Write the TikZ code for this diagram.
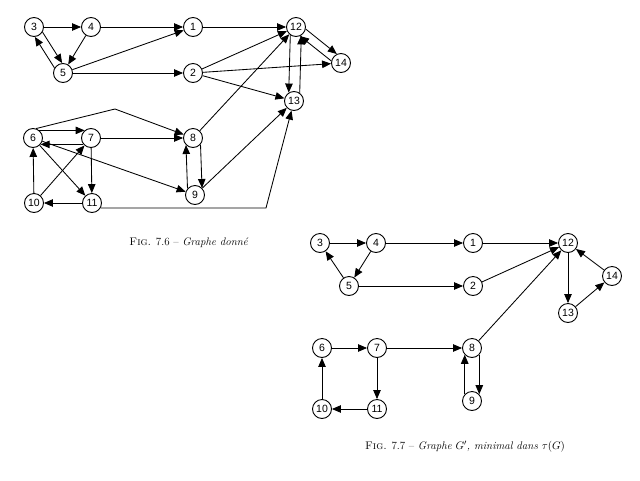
\documentclass[tikz,border=0pt]{standalone}
\usepackage{fontspec}
\newfontfamily\nodefont{Liberation Sans}
\usetikzlibrary{arrows.meta}
\begin{document}
\begin{tikzpicture}[x=1pt,y=-1pt,
  v/.style={circle,draw,line width=0.9pt,minimum size=19pt,inner sep=0pt,font=\nodefont\fontsize{10.5}{10.5}\selectfont},
  e/.style={line width=0.85pt,-{Triangle[length=9pt,width=7.5pt]}},
  capt/.style={font=\fontsize{11}{13}\selectfont}]
\useasboundingbox (0,0) rectangle (640,480);
% ---------------- Graph G ----------------
\node[v] (g3) at (34,27) {3};
\node[v] (g4) at (91,27) {4};
\node[v] (g1) at (193,27) {1};
\node[v] (g12) at (296,27) {12};
\node[v] (g14) at (341,63) {14};
\node[v] (g5) at (63,73) {5};
\node[v] (g2) at (193,73) {2};
\node[v] (g13) at (294,101) {13};
\node[v] (g6) at (33,138) {6};
\node[v] (g7) at (91,138) {7};
\node[v] (g8) at (193,138) {8};
\node[v] (g9) at (195,195) {9};
\node[v] (g10) at (34,203) {10};
\node[v] (g11) at (92,203) {11};
\coordinate (c1) at (115,109);
\coordinate (c2) at (266,208);

\draw[e] (g3) -- (g4);
\draw[e] (g4) -- (g1);
\draw[e] (g1) -- (g12);
\draw[e] (g4) -- (g5);
\draw[e] (g3.-31) -- (g5.95);
\draw[e] (g5.149) -- (g3.-85);
\draw[e] (g5) -- (g1);
\draw[e] (g5) -- (g2);
\draw[e] (g2) -- (g12);
\draw[e] (g2) -- (g14);
\draw[e] (g2) -- (g13);
\draw[e] (g12.-12) -- (g14.115);
\draw[e] (g14.168) -- (g12.-66);
\draw[e] (g12.-125) -- (g13.122);
\draw[e] (g13.55) -- (g12.-58);
\draw[e] (g8) -- (g12);
\draw[e] (g9) -- (g13);
\draw[e] (g11.-30) -- (c2) -- (g13);
\draw[e] (g6.72) -- (c1) -- (g8);
\draw[e] (g6.50) -- (g7.130);
\draw[e] (g7.-140) -- (g6.-40);
\draw[e] (g7) -- (g8);
\draw[e] (g6) -- (g11);
\draw[e] (g6) -- (g9);
\draw[e] (g10) -- (g6);
\draw[e] (g10) -- (g7);
\draw[e] (g7) -- (g11);
\draw[e] (g11) -- (g10);
\draw[e] (g8.-41) -- (g9.45);
\draw[e] (g9.139) -- (g8.-135);

\node[capt] (cap1) at (189,243) {\textsc{Fig.} 7.6 -- \textit{Graphe donné}};

% ---------------- Graph G' ----------------
\node[v] (h3) at (320,243) {3};
\node[v] (h4) at (376,243) {4};
\node[v] (h1) at (473,243) {1};
\node[v] (h12) at (568,243) {12};
\node[v] (h14) at (612,276) {14};
\node[v] (h5) at (349,286) {5};
\node[v] (h2) at (473,286) {2};
\node[v] (h13) at (568,313) {13};
\node[v] (h6) at (322,348) {6};
\node[v] (h7) at (377,348) {7};
\node[v] (h8) at (472,348) {8};
\node[v] (h9) at (472,401) {9};
\node[v] (h10) at (322,409) {10};
\node[v] (h11) at (377,409) {11};

\draw[e] (h3) -- (h4);
\draw[e] (h4) -- (h1);
\draw[e] (h1) -- (h12);
\draw[e] (h4) -- (h5);
\draw[e] (h5) -- (h3);
\draw[e] (h5) -- (h2);
\draw[e] (h2) -- (h12);
\draw[e] (h12) -- (h13);
\draw[e] (h13) -- (h14);
\draw[e] (h14) -- (h12);
\draw[e] (h8) -- (h12);
\draw[e] (h6) -- (h7);
\draw[e] (h7) -- (h8);
\draw[e] (h7) -- (h11);
\draw[e] (h11) -- (h10);
\draw[e] (h10) -- (h6);
\draw[e] (h8.-43) -- (h9.43);
\draw[e] (h9.137) -- (h8.-137);

\node[capt] (cap2) at (465,447) {\textsc{Fig.} 7.7 -- \textit{Graphe $G'$, minimal dans $\tau(G)$}};
\end{tikzpicture}
\end{document}
